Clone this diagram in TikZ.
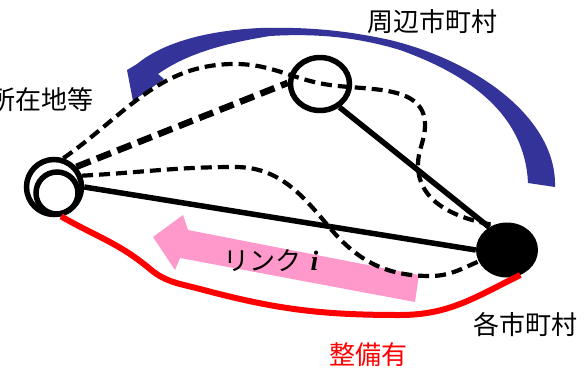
\documentclass[tikz,border=0pt]{standalone}
\usepackage{amsmath}
\usepackage{fontspec}
\usepackage{xcolor}
\usepackage{tikz}
\usetikzlibrary{
  positioning,
  shapes.geometric
}
\newfontfamily\jpfont{Noto Sans CJK JP}
\newfontfamily\idxfont{Liberation Serif}
\definecolor{flowblue}{HTML}{333399}
\definecolor{linkpink}{HTML}{FF99CC}
\definecolor{roadred}{HTML}{FF0000}

\begin{document}
\begin{tikzpicture}[
  x=1pt, y=1pt,
  ring/.style={draw, line width=5.5pt, circle, inner sep=0pt},
  town/.style={draw, line width=5.5pt, ellipse, inner sep=0pt,
               minimum width=59pt, minimum height=53pt},
  mytown/.style={fill=black, ellipse, inner sep=0pt,
                 minimum width=62pt, minimum height=55pt},
  road/.style={line width=5.5pt},
  thinroute/.style={line width=4.2pt, dash pattern=on 11pt off 6pt},
  thickroute/.style={line width=6.5pt, dash pattern=on 15pt off 7pt},
  newroad/.style={line width=6pt, roadred},
  lbl/.style={font=\jpfont\fontsize{26}{30}\selectfont, inner sep=0pt},
]
  \useasboundingbox (0,0) rectangle (588,-370);
  \clip (0,0) rectangle (588,-370);

  % Hub (double circle), neighbour town, each town
  \node[ring, minimum size=55pt] (hub) at (54,-187) {};
  \node[ring, minimum size=42pt] (hubin) at (57,-193) {};
  \node[town] (nbr) at (320,-84) {};
  \node[mytown] (each) at (507,-250) {};

  % Flow arrow (blue crescent)
  \fill[flowblue] (555,-187) .. controls (557,-120) and (480,-62) .. (390,-40)
    .. controls (340,-29) and (300,-27) .. (260,-28)
    .. controls (200,-31) and (160,-45) .. (137,-64)
    -- (127,-70) -- (133,-101) -- (164,-79) -- (158,-74)
    .. controls (185,-55) and (220,-44) .. (270,-36)
    .. controls (320,-33) and (360,-38) .. (400,-50)
    .. controls (470,-75) and (525,-115) .. (528,-183) -- cycle;

  % Link arrow (pink)
  \fill[linkpink] (153,-237) -- (183,-215) -- (188,-230) -- (419,-275)
    -- (415,-302) -- (180,-258) -- (175,-270) -- cycle;

  % Solid roads
  \draw[road] (hub.0) -- (each.180);
  \draw[road] (nbr.-50) -- (each.128);

  % Dashed routes
  \draw[thickroute] (hub.42) -- (nbr.178);
  \draw[thinroute] (hub.72) to[out=35, in=180] (235,-64)
    to[out=0, in=172] (330,-85)
    to[out=-8, in=90] (425,-125)
    to[out=-90, in=90] (418,-165)
    to[out=-90, in=170] (each.118);
  \draw[thinroute] (hub.22) to[out=3, in=180] (235,-167)
    to[out=0, in=130] (330,-228)
    to[out=-50, in=180] (430,-276)
    to[out=0, in=203] (each.202);

  % Improved road (red)
  \draw[newroad] (hubin.-80) to[out=-30, in=140] (150,-269)
    to[out=-40, in=165] (200,-289)
    to[out=-15, in=180] (400,-315)
    to[out=0, in=206] (each.-62);

  % Labels
  \node[lbl] (nbrlbl) at (432,-22) {周辺市町村};
  \node[lbl, anchor=east] (hublbl) at (94,-100) {所在地等};
  \node[lbl] (eachlbl) at (525,-325) {各市町村};
  \node[lbl, text=roadred] (redlbl) at (368,-355) {整備有};
  \node[lbl] (linklbl) at (271,-261)
    {リンク\hspace{9pt}{\idxfont\fontsize{28}{28}\selectfont\bfseries\itshape i}};

\end{tikzpicture}
\end{document}
